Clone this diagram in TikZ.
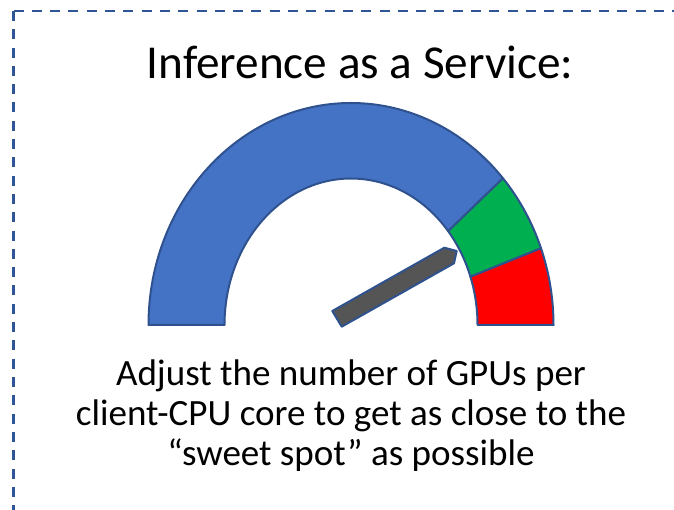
\documentclass[tikz,border=0pt]{standalone}
\usepackage{fontspec}
\setmainfont{Carlito}
\usetikzlibrary{calc}
\definecolor{frameblue}{RGB}{47,85,151}
\definecolor{edgeblue}{RGB}{47,82,143}
\definecolor{gblue}{RGB}{68,114,196}
\definecolor{ggreen}{RGB}{0,176,80}
\definecolor{gred}{RGB}{255,0,0}
\definecolor{needlegray}{RGB}{85,85,85}
\begin{document}
\begin{tikzpicture}[x=1bp, y=1bp,
    frame/.style={draw=frameblue, line width=2.4bp, dash pattern=on 10bp off 8.3bp},
    seg/.style={draw=edgeblue, line width=2bp, line join=round},
    needle/.style={draw=edgeblue, fill=needlegray, line width=2bp, line join=round},
    title/.style={font=\fontsize{47.4}{56}\selectfont, anchor=base},
    caption/.style={font=\fontsize{37.2}{40}\selectfont, align=center, anchor=base}
]
    \useasboundingbox (0,0) rectangle (674,510);
    % --- 1. FRAME ---
    \draw[frame] (13.5,499) -- (720,499);
    \draw[frame] (13.5,499) -- (13.5,-40);

    % --- 2. TITLE ---
    \node[title] (ttl) at (360,431) {Inference as a Service:};

    % --- 3. GAUGE ---
    \coordinate (c) at (351,185);
    \draw[seg, fill=gblue] (c) ++(180:202.5 and 222) arc[start angle=180, end angle=41.37, x radius=202.5, y radius=222]
        -- ($(c)+(39.83:126.5 and 146.5)$) arc[start angle=39.83, end angle=180, x radius=126.5, y radius=146.5] -- cycle;
    \draw[seg, fill=ggreen] (c) ++(41.37:202.5 and 222) arc[start angle=41.37, end angle=20.23, x radius=202.5, y radius=222]
        -- ($(c)+(19.23:126.5 and 146.5)$) arc[start angle=19.23, end angle=39.83, x radius=126.5, y radius=146.5] -- cycle;
    \draw[seg, fill=gred] (c) ++(20.23:202.5 and 222) arc[start angle=20.23, end angle=0, x radius=202.5, y radius=222]
        -- ($(c)+(0:126.5 and 146.5)$) arc[start angle=0, end angle=19.23, x radius=126.5, y radius=146.5] -- cycle;

    % needle
    \draw[needle] (332.3,199) -- (444.3,262.3) -- (456.7,259) -- (454,246.7) -- (341.7,183.3) -- cycle;

    % --- 4. CAPTION ---
    \node[caption] (cap) at (351,44.5) {Adjust the number of GPUs per\\client-CPU core to get as close to the\\“sweet spot” as possible};
\end{tikzpicture}
\end{document}
